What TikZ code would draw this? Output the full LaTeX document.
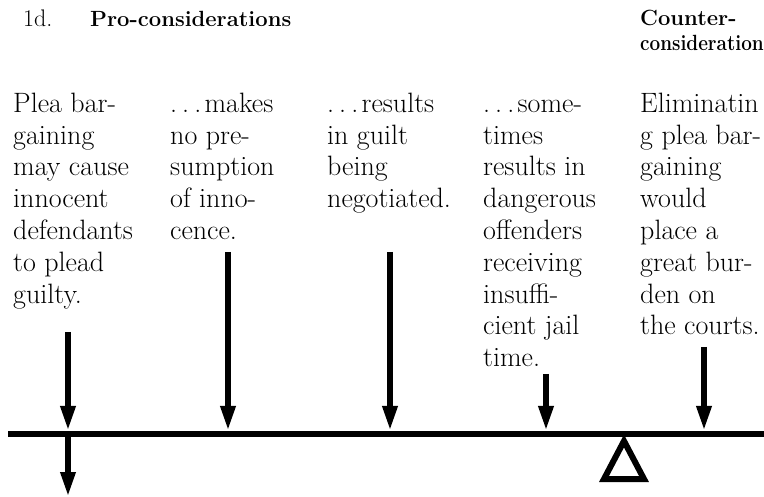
\documentclass[tikz,border=0pt]{standalone}
\usepackage{fontspec}
\usepackage{graphicx}
\usetikzlibrary{arrows.meta}
\newcommand{\ellip}{.\kern0.18em.\kern0.18em.\kern0.12em}
\tikzset{
  body/.style={anchor=north west, inner sep=0pt, align=left,
    font=\fontsize{28}{31.8}\selectfont, text=black},
  headbold/.style={anchor=base west, inner sep=0pt,
    font=\fontsize{22}{26}\selectfont\bfseries, text=black},
  headplain/.style={anchor=base west, inner sep=0pt,
    font=\fontsize{24}{28}\selectfont, text=black},
  force/.style={line width=6pt, draw=black, -{Triangle[length=25pt,width=14pt]}},
  beamline/.style={line width=6pt, draw=black},
  fulcrum/.style={line width=6pt, draw=black, fill=white, line join=miter},
}
\begin{document}
\begin{tikzpicture}[x=1pt,y=-1pt]
\useasboundingbox (0,0) rectangle (764,497);
\clip (0,0) rectangle (764,497);

% headings
\node[headplain] (num) at (23,27) {1d.};
\node[headbold] (pro) at (90,27) {Pro-considerations};
\node[headbold] (con1) at (640,26) {Counter-};
\node[headbold] (con2) at (640,51) {\scalebox{0.86}[1]{consideration}};

% text columns
\node[body] (c1) at (13,92.6) {\vphantom{Ml}Plea bar-\\gaining\\may cause\\innocent\\defendants\\to plead\\guilty.};
\node[body] (c2) at (170,92.6) {\vphantom{Ml}\ellip makes\\no pre-\\sumption\\of inno-\\cence.};
\node[body] (c3) at (327,92.6) {\vphantom{Ml}\ellip results\\in guilt\\being\\negotiated.};
\node[body] (c4) at (483,92.6) {\vphantom{Ml}\ellip some-\\times\\results in\\dangerous\\offenders\\receiving\\insuffi-\\cient jail\\time.};
\node[body] (c5) at (640,92.6) {\vphantom{Ml}Eliminatin\\g plea bar-\\gaining\\would\\place a\\great bur-\\den on\\the courts.};

% beam
\coordinate (bl) at (8,433.5);
\coordinate (br) at (770,433.5);
\draw[beamline] (bl) -- (br);

% fulcrum
\coordinate (fa) at (624,441);
\coordinate (fb) at (604,479);
\coordinate (fc) at (644,479);
\draw[fulcrum] (fa) -- (fb) -- (fc) -- cycle;

% forces
\coordinate (t1) at (68,332);  \coordinate (e1) at (68,431);
\coordinate (t2) at (228,252); \coordinate (e2) at (228,431);
\coordinate (t3) at (390,252); \coordinate (e3) at (390,431);
\coordinate (t4) at (546,374); \coordinate (e4) at (546,431);
\coordinate (t5) at (704,347); \coordinate (e5) at (704,431);
\coordinate (t6) at (68,437);  \coordinate (e6) at (68,497);
\draw[force] (t1) -- (e1);
\draw[force] (t2) -- (e2);
\draw[force] (t3) -- (e3);
\draw[force] (t4) -- (e4);
\draw[force] (t5) -- (e5);
\draw[force] (t6) -- (e6);
\end{tikzpicture}
\end{document}
